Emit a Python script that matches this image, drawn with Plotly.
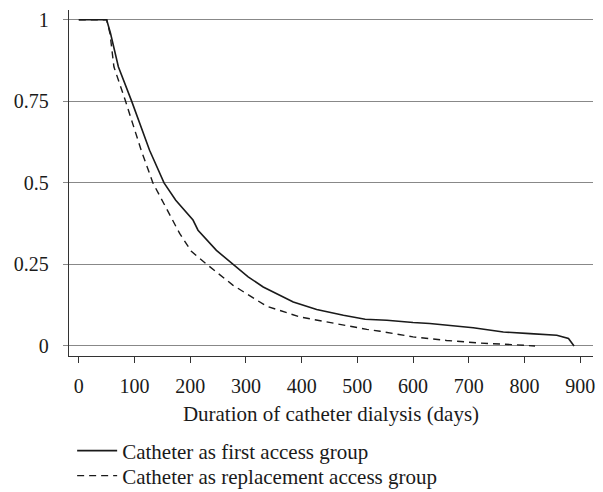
import plotly.graph_objects as go

# Catheter as first access group (solid)
first_days = [0, 50, 57, 71, 95, 127, 153, 174, 205, 214, 247, 277, 304, 331, 385,
              427, 475, 514, 553, 600, 630, 708, 762, 810, 858, 879, 887, 889]
first_surv = [1, 1, 0.958, 0.856, 0.75, 0.60, 0.50, 0.447, 0.386, 0.355, 0.293, 0.25,
              0.212, 0.181, 0.135, 0.112, 0.094, 0.082, 0.079, 0.072, 0.069, 0.056,
              0.043, 0.038, 0.033, 0.023, 0.007, 0.0]

# Catheter as replacement access group (dashed)
repl_days = [0, 50, 56, 63, 84, 112, 133, 181, 202, 230, 277, 301, 337, 397, 457,
             517, 541, 600, 660, 720, 780, 819]
repl_surv = [1, 1, 0.958, 0.856, 0.75, 0.60, 0.50, 0.345, 0.29, 0.25, 0.186, 0.161,
             0.122, 0.089, 0.069, 0.051, 0.045, 0.028, 0.017, 0.009, 0.004, 0.0]

x_ticks = [0, 100, 200, 300, 400, 500, 600, 700, 800, 900]
y_ticks = [0, 0.25, 0.5, 0.75, 1]
y_tick_labels = ["0", "0.25", "0.5", "0.75", "1"]

series_names = ["Catheter as first access group", "Catheter as replacement access group"]

FONT = "Liberation Serif"

fig = go.Figure()
fig.add_trace(go.Scatter(x=first_days, y=first_surv, mode="lines", name=series_names[0],
                         line=dict(color="#1a1a1a", width=1.6), legend="legend"))
fig.add_trace(go.Scatter(x=repl_days, y=repl_surv, mode="lines", name=series_names[1],
                         line=dict(color="#1a1a1a", width=1.4, dash="7px,5px"),
                         legend="legend2"))

leg_common = dict(x=0.006, xanchor="left", yanchor="middle", xref="paper", yref="container",
                  font=dict(family=FONT, size=21), bgcolor="rgba(0,0,0,0)", itemwidth=40)

fig.update_layout(
    width=603, height=492,
    margin=dict(l=69, r=10, t=10, b=136, autoexpand=False),
    paper_bgcolor="white", plot_bgcolor="white",
    font=dict(family=FONT, size=20, color="#1a1a1a"),
    showlegend=True,
    legend=dict(y=1 - 451 / 492, **leg_common),
    legend2=dict(y=1 - 476 / 492, **leg_common),
    xaxis=dict(range=[-17.6, 923], tickvals=x_ticks, ticks="outside", ticklen=6,
               tickcolor="#333", tickwidth=1.3, showgrid=False, zeroline=False,
               showline=True, linecolor="#333", linewidth=1.3, automargin=False,
               tickfont=dict(family=FONT, size=20), ticklabelstandoff=6,
               title=dict(text="Duration of catheter dialysis (days)",
                          font=dict(family=FONT, size=21), standoff=10)),
    yaxis=dict(range=[-0.0307, 1.030], tickvals=y_ticks, ticktext=y_tick_labels,
               ticks="outside", ticklen=5, tickcolor="#888", tickwidth=1.3,
               showgrid=True, gridcolor="#888", gridwidth=1.3, zeroline=False,
               showline=True, linecolor="#333", linewidth=1.3, automargin=False,
               tickfont=dict(family=FONT, size=20), ticklabelstandoff=10),
)

fig.write_html("out.html")
